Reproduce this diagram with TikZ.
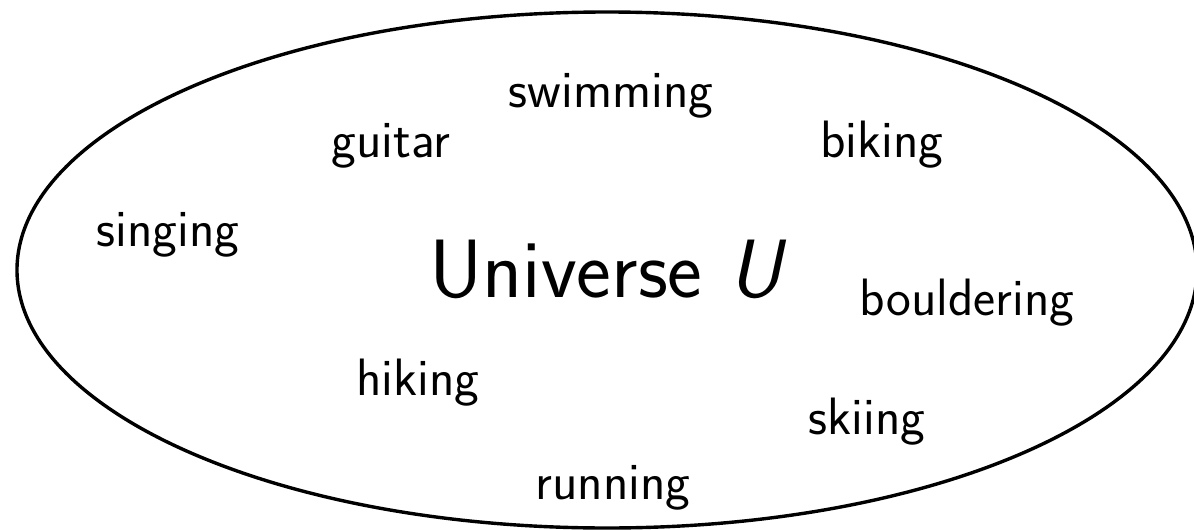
\documentclass[tikz,border=0pt]{standalone}
\begin{document}
\begin{tikzpicture}[x=0.5pt,y=-0.5pt,
  item/.style={font=\sffamily\fontsize{26.3}{30}\selectfont, anchor=base, inner sep=0pt},
  title/.style={font=\sffamily\fontsize{41.4}{48}\selectfont, anchor=base, inner sep=0pt},
  setline/.style={draw=black, line width=1.7pt}]
\useasboundingbox (0,0) rectangle (1194,530);
\draw[setline] (607,270) ellipse [x radius=295pt, y radius=129pt];
\node[title] (U) at (608,297) {Universe \textsl{U}};
\node[item] (swimming) at (611,107) {swimming};
\node[item] (guitar) at (391,157) {guitar};
\node[item] (biking) at (882,157) {biking};
\node[item] (singing) at (168,246) {singing};
\node[item] (bouldering) at (967,315) {bouldering};
\node[item] (hiking) at (418,395) {hiking};
\node[item] (skiing) at (867,434) {skiing};
\node[item] (running) at (613,499) {running};
\end{tikzpicture}
\end{document}
